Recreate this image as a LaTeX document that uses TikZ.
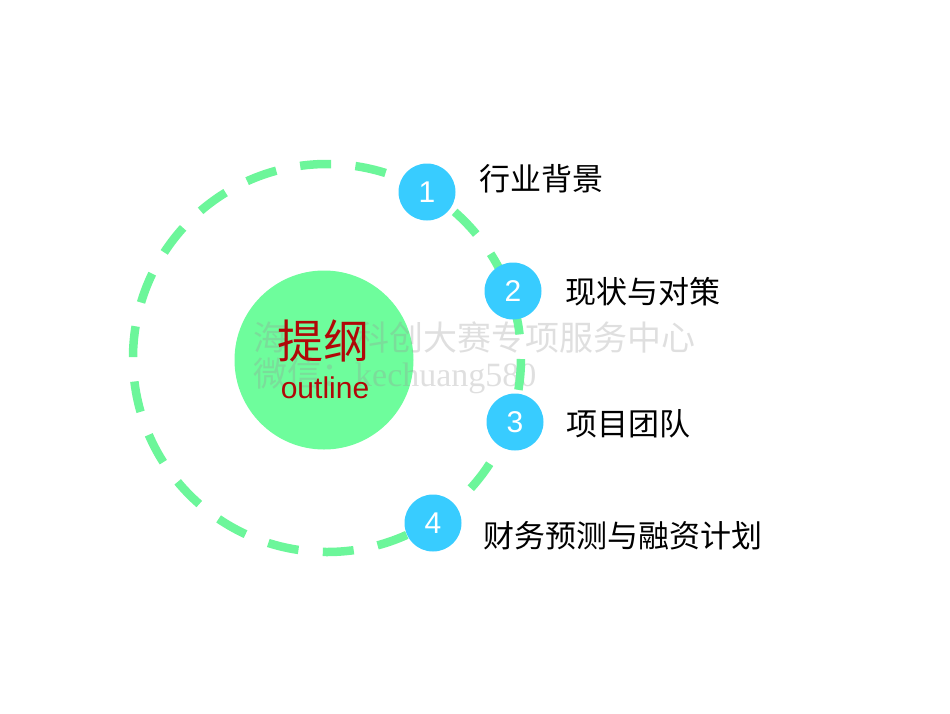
\documentclass[tikz,border=0pt]{standalone}
\usepackage{fontspec}
\setmainfont{Liberation Sans}
\newfontfamily\cjk{Noto Sans CJK SC}
\newfontfamily\wmlatin{Liberation Serif}
\definecolor{ringgreen}{RGB}{108,246,154}
\definecolor{fillgreen}{RGB}{110,253,156}
\definecolor{dotblue}{RGB}{56,204,255}
\definecolor{titlered}{RGB}{176,8,8}
\definecolor{wmgray}{RGB}{150,150,150}
\tikzset{
  numdot/.style={circle, fill=dotblue, minimum size=57pt, inner sep=0pt, text=white, font=\fontsize{30}{30}\selectfont},
  itemlabel/.style={anchor=west, inner sep=0pt, font=\cjk\fontsize{31}{31}\selectfont, text=black},
  wm/.style={anchor=west, inner sep=0pt, text=wmgray, opacity=0.3}
}
\begin{document}
\begin{tikzpicture}[x=1pt,y=-1pt]
\useasboundingbox (0,0) rectangle (950,713);
% centre disc
\node[circle, fill=fillgreen, minimum size=179pt, inner sep=0pt] (core) at (324,360) {};
% watermark
\node[wm, font=\cjk\fontsize{34}{34}\selectfont] (wm1) at (253,337) {海\hspace{68pt}科创大赛专项服务中心};
\node[wm, font=\cjk\fontsize{34}{34}\selectfont] (wm2) at (253,376) {微信：{\wmlatin kechuang580}};
% dashed ring
\coordinate (ringc) at (327,358);
\draw[ringgreen, line width=8.5pt, dash pattern=on 31pt off 24.4pt, dash phase=54.4pt]
  (ringc) circle[radius=194];
% title
\node[inner sep=0pt, text=titlered, font=\cjk\fontsize{46}{46}\selectfont] (title) at (323,341) {提纲};
\node[inner sep=0pt, text=titlered, font=\fontsize{30}{30}\selectfont] (outl) at (325,388) {outline};
% numbered dots
\node[numdot] (n1) at (427,192) {1};
\node[numdot] (n2) at (513,291) {2};
\node[numdot] (n3) at (515,422) {3};
\node[numdot] (n4) at (433,523) {4};
% labels
\node[itemlabel] (l1) at (479,179) {行业背景};
\node[itemlabel] (l2) at (565,292) {现状与对策};
\node[itemlabel] (l3) at (566,424) {项目团队};
\node[itemlabel] (l4) at (483,536) {财务预测与融资计划};
\end{tikzpicture}
\end{document}
